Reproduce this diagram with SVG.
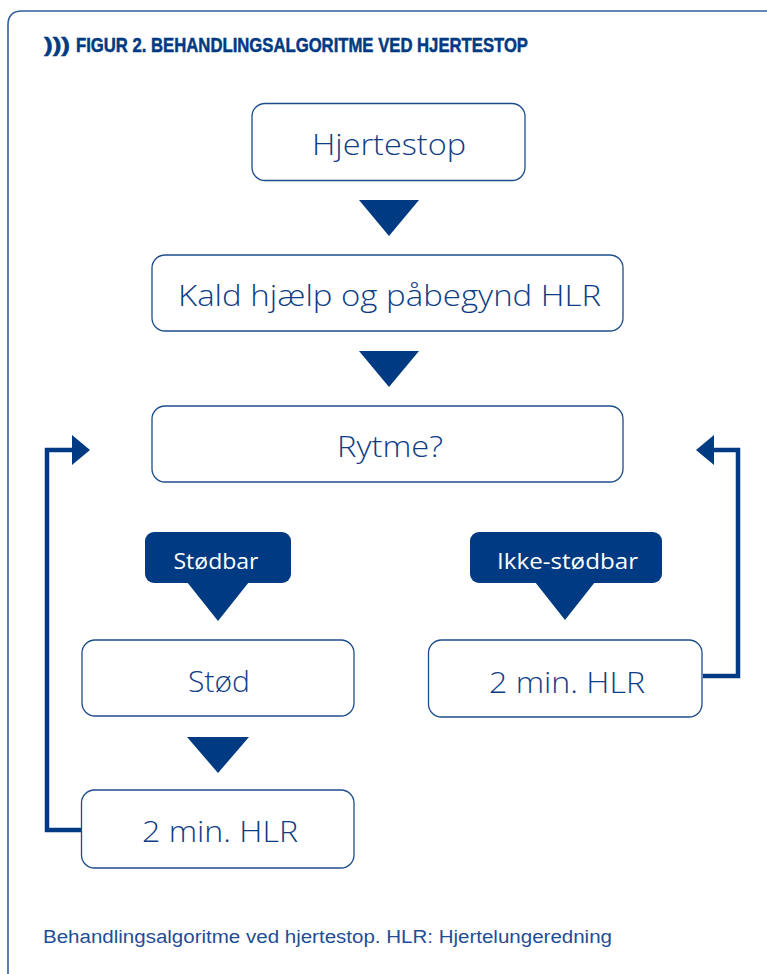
<svg xmlns="http://www.w3.org/2000/svg" width="767" height="974" viewBox="0 0 767 974">
<style>
.frame{fill:none;stroke:#2f5f9f;stroke-width:1.6}
.box{fill:#fff;stroke:#1d4c8c;stroke-width:1.3}
.bt{font-family:"Open Sans","DejaVu Sans",sans-serif;font-weight:300;font-size:30px;fill:#0f3d84;text-anchor:middle}
.fill{fill:#003a82}
.lt{font-family:"Open Sans","DejaVu Sans",sans-serif;font-size:22px;fill:#fff;text-anchor:middle}
.conn{fill:none;stroke:#003a82;stroke-width:4.5}
.title{font-family:"Liberation Sans",Arial,sans-serif;font-weight:bold;font-size:20px;fill:#003a82;stroke:#003a82;stroke-width:0.5}
.cap{font-family:"Liberation Sans",Arial,sans-serif;font-size:18px;fill:#1f4e96}
</style>
<path class="frame" d="M8 980 V25 Q8 11 22 11 H780"/>
<text class="title" x="44" y="52" textLength="26" lengthAdjust="spacingAndGlyphs">)))</text>
<text class="title" x="76" y="52" textLength="452" lengthAdjust="spacingAndGlyphs">FIGUR 2. BEHANDLINGSALGORITME VED HJERTESTOP</text>

<g id="connectors">
<polygon class="fill" points="359,200 419,200 389,236"/>
<polygon class="fill" points="359,351 419,351 389,387"/>
<polygon class="fill" points="187,737 249,737 218,773"/>
<polyline class="conn" points="82,830 47,830 47,450 74,450"/>
<polygon class="fill" points="72,435 90,450 72,465"/>
<polyline class="conn" points="703,676 738,676 738,450 712,450"/>
<polygon class="fill" points="714,435 696,450 714,465"/>
</g>

<g id="n1"><rect class="box" x="252" y="103.5" width="273" height="77" rx="13"/><text class="bt" x="389" y="155" textLength="154" lengthAdjust="spacingAndGlyphs">Hjertestop</text></g>
<g id="n2"><rect class="box" x="152" y="255" width="471" height="76" rx="13"/><text class="bt" x="389.5" y="306" textLength="423" lengthAdjust="spacingAndGlyphs">Kald hjælp og påbegynd HLR</text></g>
<g id="n3"><rect class="box" x="152" y="406" width="471" height="76" rx="13"/><text class="bt" x="390" y="457" textLength="106" lengthAdjust="spacingAndGlyphs">Rytme?</text></g>

<g id="l1"><rect class="fill" x="145" y="532" width="146" height="51" rx="9"/><polygon class="fill" points="187,582 249,582 218,621"/><text class="lt" x="216" y="569" textLength="85" lengthAdjust="spacingAndGlyphs">Stødbar</text></g>
<g id="l2"><rect class="fill" x="470" y="532" width="192" height="51" rx="9"/><polygon class="fill" points="535,582 595,582 565,620"/><text class="lt" x="567.5" y="569" textLength="141" lengthAdjust="spacingAndGlyphs">Ikke-stødbar</text></g>

<g id="n4"><rect class="box" x="82" y="640" width="272" height="76" rx="13"/><text class="bt" x="219" y="692" textLength="62" lengthAdjust="spacingAndGlyphs">Stød</text></g>
<g id="n5"><rect class="box" x="428.5" y="640" width="273.5" height="77" rx="13"/><text class="bt" x="567" y="693" textLength="156" lengthAdjust="spacingAndGlyphs">2 min. HLR</text></g>
<g id="n6"><rect class="box" x="81.5" y="790" width="272.5" height="78" rx="13"/><text class="bt" x="220" y="842" textLength="156" lengthAdjust="spacingAndGlyphs">2 min. HLR</text></g>

<text class="cap" x="43" y="943" textLength="569" lengthAdjust="spacingAndGlyphs">Behandlingsalgoritme ved hjertestop. HLR: Hjertelungeredning</text>
</svg>
